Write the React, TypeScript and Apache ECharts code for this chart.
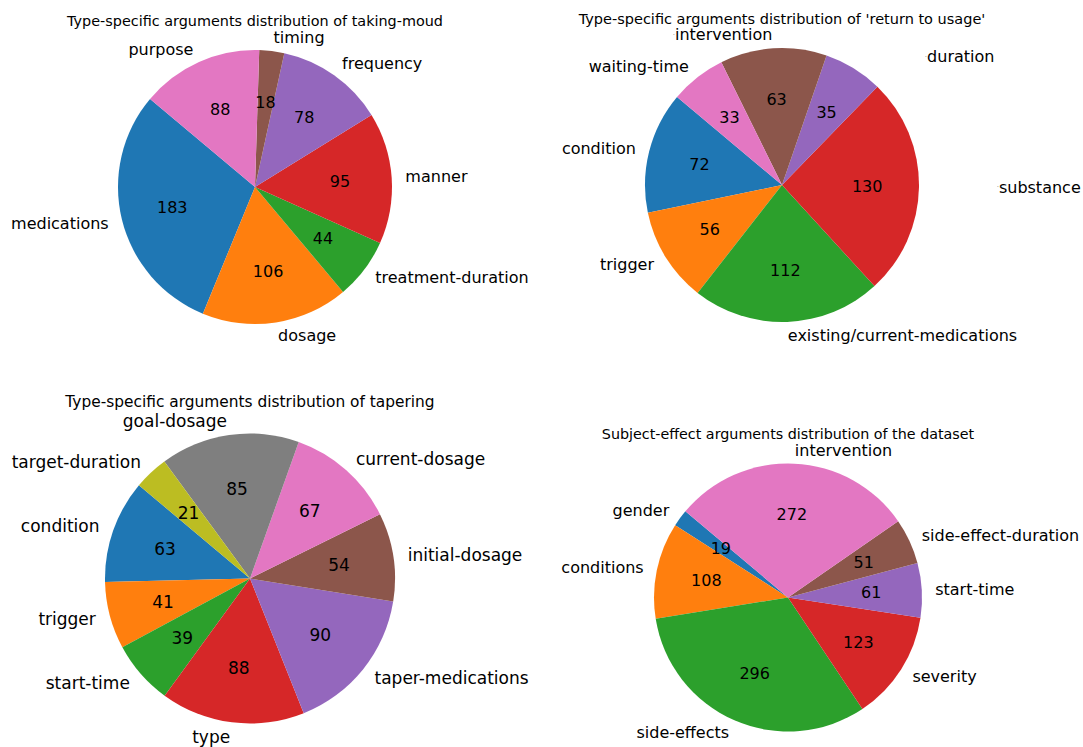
import React, { useEffect, useRef } from 'react';
import * as echarts from 'echarts';

const COLORS = ['#1f77b4', '#ff7f0e', '#2ca02c', '#d62728', '#9467bd', '#8c564b', '#e377c2', '#7f7f7f', '#bcbd22', '#17becf'];
const FONT = "'DejaVu Sans', sans-serif";

const mouTitle = 'Type-specific arguments distribution of taking-moud';
const mouCategories = ['medications', 'dosage', 'treatment-duration', 'manner', 'frequency', 'timing', 'purpose'];
const mouValues = [183, 106, 44, 95, 78, 18, 88];

const returnTitle = "Type-specific arguments distribution of 'return to usage'";
const returnCategories = ['condition', 'trigger', 'existing/current-medications', 'substance', 'duration', 'intervention', 'waiting-time'];
const returnValues = [72, 56, 112, 130, 35, 63, 33];
const returnDotted = ['substance', 'duration', 'intervention'];

const taperTitle = 'Type-specific arguments distribution of tapering';
const taperCategories = ['condition', 'trigger', 'start-time', 'type', 'taper-medications', 'initial-dosage', 'current-dosage', 'goal-dosage', 'target-duration'];
const taperValues = [63, 41, 39, 88, 90, 54, 67, 85, 21];

const effectTitle = 'Subject-effect arguments distribution of the dataset';
const effectCategories = ['gender', 'conditions', 'side-effects', 'severity', 'start-time', 'side-effect-duration', 'intervention'];
const effectValues = [19, 108, 296, 123, 61, 51, 272];

const panels = [
  { title: mouTitle, cats: mouCategories, vals: mouValues, dotted: [] as string[], center: [255, 187], r: 137, titlePos: [255, 21], fs: 16, tfs: 14.4 },
  { title: returnTitle, cats: returnCategories, vals: returnValues, dotted: returnDotted, center: [782, 185], r: 137, titlePos: [782, 19], fs: 16, tfs: 14.5 },
  { title: taperTitle, cats: taperCategories, vals: taperValues, dotted: [] as string[], center: [250, 578.5], r: 145, titlePos: [250, 402], fs: 17, tfs: 15.4 },
  { title: effectTitle, cats: effectCategories, vals: effectValues, dotted: [] as string[], center: [788, 597.5], r: 134, titlePos: [788, 434], fs: 16, tfs: 14.3 },
];

function buildOption() {
  const series: any[] = [];
  const graphics: any[] = [];
  panels.forEach((p) => {
    const total = p.vals.reduce((a, b) => a + b, 0);
    let acc = 0;
    const data = p.cats.map((name, i) => {
      const mid = 140 + (acc + p.vals[i] / 2) / total * 360;
      acc += p.vals[i];
      const isRight = Math.cos((mid * Math.PI) / 180) > 0;
      const item: any = { name, value: p.vals[i], itemStyle: { color: COLORS[i] } };
      if (p.dotted.includes(name) && isRight) {
        item.label = { padding: [0, 0, 0, 64] };
      }
      return item;
    });
    series.push({
      type: 'pie',
      center: p.center,
      radius: p.r,
      startAngle: 140,
      clockwise: false,
      silent: true,
      avoidLabelOverlap: false,
      itemStyle: { borderWidth: 0 },
      emphasis: { disabled: true },
      label: {
        show: true,
        position: 'outside',
        fontSize: p.fs,
        lineHeight: p.fs,
        fontFamily: FONT,
        color: '#000',
        distanceToLabelLine: 0,
        formatter: (d: any) => (p.dotted.includes(d.name) ? '{dot|·}' + d.name : d.name),
        rich: { dot: { fontSize: 7, lineHeight: p.fs, color: '#888', fontFamily: FONT } },
      },
      labelLine: { show: false, length: p.r * 0.1, length2: 0 },
      data,
    });
    series.push({
      type: 'pie',
      center: p.center,
      radius: [p.r * 0.2, p.r],
      startAngle: 140,
      clockwise: false,
      silent: true,
      avoidLabelOverlap: false,
      itemStyle: { color: 'rgba(0,0,0,0)', borderWidth: 0 },
      emphasis: { disabled: true },
      label: {
        show: true,
        position: 'inside',
        fontSize: p.fs,
        lineHeight: p.fs,
        fontFamily: FONT,
        color: '#000',
        formatter: '{c}',
      },
      labelLine: { show: false },
      data: p.cats.map((name, i) => ({ name, value: p.vals[i] })),
    });
    graphics.push({
      type: 'text',
      x: p.titlePos[0],
      y: p.titlePos[1],
      style: {
        text: p.title,
        fontSize: p.tfs,
        lineHeight: p.tfs,
        fontFamily: FONT,
        fill: '#000',
        textAlign: 'center',
        textVerticalAlign: 'middle',
      },
    });
  });
  return {
    animation: false,
    backgroundColor: '#fff',
    graphic: graphics,
    series,
  };
}

export default function App() {
  const ref = useRef<HTMLDivElement>(null);
  useEffect(() => {
    if (!ref.current) return;
    const chart = echarts.init(ref.current, undefined, { renderer: 'svg' });
    chart.setOption(buildOption() as any);
    return () => chart.dispose();
  }, []);
  return (
    <div
      ref={ref}
      style={{ position: 'absolute', left: 0, top: 0, width: 1083, height: 747, background: '#fff' }}
    />
  );
}
